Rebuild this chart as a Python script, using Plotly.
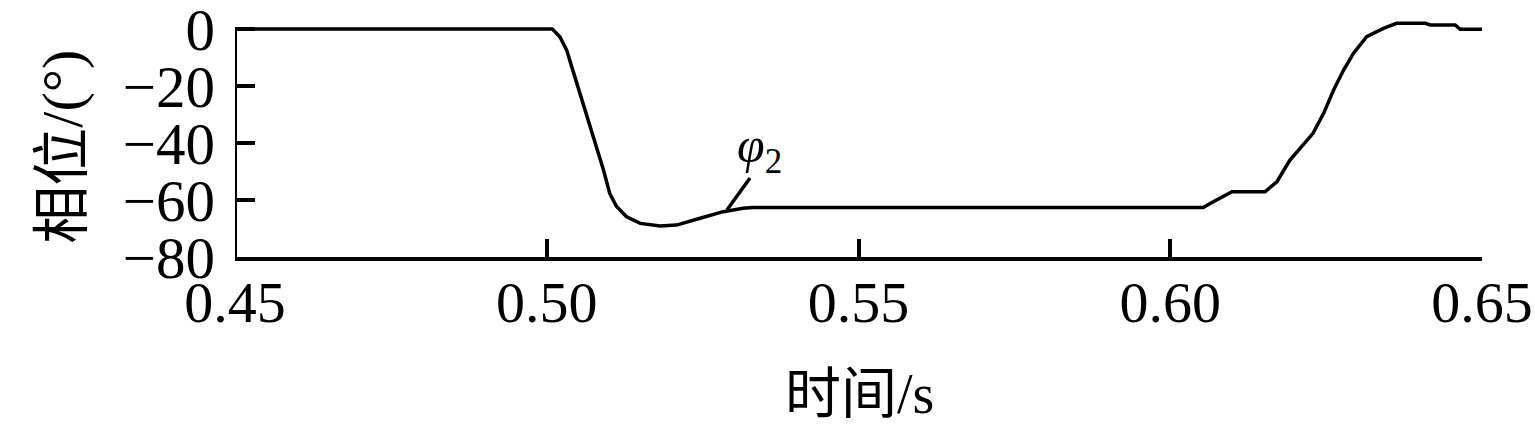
import plotly.graph_objects as go

# Data
time_s = [0.450, 0.5009, 0.5021, 0.5032, 0.5040, 0.5053, 0.5067, 0.5080, 0.5091, 0.5101,
          0.5112, 0.5128, 0.5150, 0.5182, 0.5208, 0.5246, 0.5283, 0.5315, 0.5330,
          0.6053, 0.6064, 0.6099, 0.6152, 0.6171, 0.6192, 0.6229, 0.6246, 0.6262,
          0.6278, 0.6294, 0.6315, 0.6342, 0.6363, 0.6409, 0.6417, 0.6457, 0.6465, 0.650]
phase_deg = [0.0, 0.0, -2.7, -7.4, -13.2, -22.6, -31.9, -41.3, -49.5, -57.7,
             -62.3, -65.9, -68.2, -69.1, -68.8, -66.4, -64.1, -62.9, -62.6,
             -62.6, -61.2, -57.1, -57.1, -53.6, -46.0, -36.6, -29.6, -21.4,
             -14.4, -8.5, -2.7, 0.2, 2.0, 2.0, 1.4, 1.4, -0.1, -0.1]

x_ticks = [0.45, 0.50, 0.55, 0.60, 0.65]
x_tick_labels = ["0.45", "0.50", "0.55", "0.60", "0.65"]
y_ticks = [0, -20, -40, -60, -80]
y_tick_labels = ["0", "−20", "−40", "−60", "−80"]

x_title = "时间/s"
y_title = "相位/(°)"
label_text = "<i>φ</i><sub>2</sub>"
label_pos = (0.5342, -42.0)
leader = [(0.5326, -52.3), (0.5289, -63.5)]

FONT = "Liberation Serif, Times New Roman, Noto Sans CJK SC, serif"

fig = go.Figure()
fig.add_trace(go.Scatter(x=time_s, y=phase_deg, mode="lines",
                         line=dict(color="black", width=3.5), showlegend=False))

# left axis line (only from -80 to 0)
fig.add_shape(type="line", xref="x", yref="y", x0=0.45, x1=0.45, y0=-80, y1=0,
              line=dict(color="black", width=4))
# leader line for the label
fig.add_shape(type="line", xref="x", yref="y", x0=leader[0][0], y0=leader[0][1],
              x1=leader[1][0], y1=leader[1][1], line=dict(color="black", width=3.5))
fig.add_annotation(x=label_pos[0], y=label_pos[1], text=label_text, showarrow=False,
                   xanchor="center", yanchor="middle",
                   font=dict(family=FONT, size=50, color="black"))

# axis titles
fig.add_annotation(xref="paper", yref="paper", x=0.501, y=-0.578, text=x_title,
                   xanchor="center", yanchor="middle",
                   showarrow=False, font=dict(family=FONT, size=56, color="black"))
fig.add_annotation(xref="paper", yref="paper", x=-0.139, y=0.464, text=y_title,
                   xanchor="center", yanchor="middle",
                   textangle=-90, showarrow=False,
                   font=dict(family=FONT, size=58, color="black"))

fig.update_layout(
    width=1535, height=432,
    margin=dict(l=235, r=53, t=20, b=175),
    plot_bgcolor="white", paper_bgcolor="white",
    font=dict(family=FONT, color="black"),
    xaxis=dict(range=[0.45, 0.65], tickvals=x_ticks, ticktext=x_tick_labels,
               automargin=False, ticklabeloverflow="allow", ticklabelstandoff=-9,
               showgrid=False, zeroline=False, showline=True, linecolor="black", linewidth=4,
               ticks="inside", ticklen=18, tickwidth=4, tickcolor="black",
               tickfont=dict(family=FONT, size=58)),
    yaxis=dict(range=[-80, 3.16], tickvals=y_ticks, ticktext=y_tick_labels,
               automargin=False, ticklabeloverflow="allow", ticklabelstandoff=19,
               showgrid=False, zeroline=False, showline=False,
               ticks="inside", ticklen=20, tickwidth=4, tickcolor="black",
               tickfont=dict(family=FONT, size=59)),
)

fig.write_html("out.html", config={"displayModeBar": False},
               post_script="document.body.style.margin='0';")
